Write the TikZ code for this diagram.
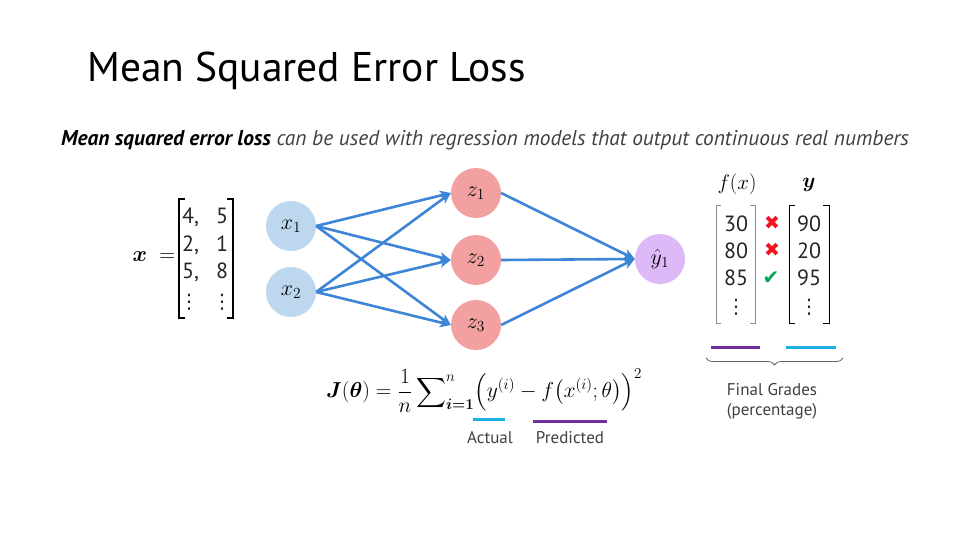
\RequirePackage{fix-cm}
\documentclass[tikz,border=0pt]{standalone}
\usepackage{amsmath,bm}
\usepackage{fontspec}
\setmainfont{PT Sans}
\newfontfamily\symfont{DejaVu Sans}
\usetikzlibrary{arrows.meta,decorations.pathreplacing}
\definecolor{xblue}{RGB}{189,215,238}
\definecolor{zred}{RGB}{242,160,160}
\definecolor{ypurple}{RGB}{221,185,247}
\definecolor{arrowblue}{RGB}{61,133,214}
\definecolor{lineviolet}{RGB}{112,48,160}
\definecolor{linecyan}{RGB}{30,175,225}
\definecolor{xred}{RGB}{240,20,30}
\definecolor{cgreen}{RGB}{0,166,80}
\begin{document}
\begin{tikzpicture}[x=1pt,y=-1pt,
  neuron/.style={circle,minimum size=50pt,inner sep=0pt,font=\fontsize{22}{26}\selectfont},
  conn/.style={draw=arrowblue,line width=2.6pt,-{Stealth[length=11pt,width=10pt,inset=3pt]}},
  num/.style={anchor=base,inner sep=0pt,text=black!85,font=\fontsize{22}{26}\selectfont},
  vdot/.style={anchor=base,inner sep=0pt,text=black!85,font=\symfont\fontsize{20}{24}\selectfont},
  caption/.style={inner sep=0pt,text=black!75,font=\fontsize{17}{20}\selectfont},
  markline/.style={line width=3pt}]
\useasboundingbox (0,0) rectangle (960,540);
\fill[white] (0,0) rectangle (960,540);

% title and subtitle
\node[anchor=base west,inner sep=0pt,font=\fontsize{41.5}{48}\selectfont] (title) at (87,82) {Mean Squared Error Loss};
\node[anchor=base west,inner sep=0pt,font=\fontsize{21.4}{25}\selectfont\itshape] (sub) at (61,146)
  {\textbf{Mean squared error loss} \textcolor{black!75}{can be used with regression models that output continuous real numbers}};

% input matrix
\node[inner sep=0pt,font=\fontsize{22}{26}\selectfont] (xeq) at (154,257) {$\bm{x}\;=$};
\draw[line width=1.1pt] (185,199) -- (179,199) -- (179,318) -- (185,318);
\draw[line width=1.1pt] (227,199) -- (233,199) -- (233,318) -- (227,318);
\node[num,anchor=base west] (m11) at (182,223) {4,};
\node[num] (m12) at (222,223) {5};
\node[num,anchor=base west] (m21) at (182,251) {2,};
\node[num] (m22) at (222,251) {1};
\node[num,anchor=base west] (m31) at (182,278) {5,};
\node[num] (m32) at (222,278) {8};
\node[vdot] (m41) at (189,308) {⋮};
\node[vdot] (m42) at (222,308) {⋮};

% network
\node[neuron,fill=xblue] (x1) at (291,226) {$x_1$};
\node[neuron,fill=xblue] (x2) at (291,292) {$x_2$};
\node[neuron,fill=zred] (z1) at (476,193) {$z_1$};
\node[neuron,fill=zred] (z2) at (476,260) {$z_2$};
\node[neuron,fill=zred] (z3) at (476,325) {$z_3$};
\node[neuron,fill=ypurple] (yh) at (660,259) {$\hat{y}_1$};
\foreach \s in {x1,x2}{
  \foreach \t in {z1,z2,z3}{
    \draw[conn] (\s.east) -- (\t.west);
  }
}
\foreach \s in {z1,z2,z3}{
  \draw[conn] (\s.east) -- (yh.west);
}

% table of predictions
\node[inner sep=0pt,font=\fontsize{21}{25}\selectfont] (fx) at (737,184) {$f(x)$};
\node[inner sep=0pt,font=\fontsize{21}{25}\selectfont] (ylab) at (809,185) {$\bm{y}$};
\draw[black!45,line width=0.8pt] (721,205) -- (716,205) -- (716,323) -- (721,323);
\draw[black!45,line width=0.8pt] (750,205) -- (755,205) -- (755,323) -- (750,323);
\draw[black,line width=0.9pt] (795,205) -- (789,205) -- (789,323) -- (795,323);
\draw[black,line width=0.9pt] (823,205) -- (829,205) -- (829,323) -- (823,323);
\node[num] (p1) at (736,231) {30};
\node[num] (p2) at (736,258) {80};
\node[num] (p3) at (736,285) {85};
\node[vdot] (p4) at (736,313) {⋮};
\node[num] (a1) at (809,231) {90};
\node[num] (a2) at (809,258) {20};
\node[num] (a3) at (809,285) {95};
\node[vdot] (a4) at (809,313) {⋮};
\node[inner sep=0pt,text=xred,font=\symfont\fontsize{19}{22}\selectfont] (c1) at (772,223) {✖};
\node[inner sep=0pt,text=xred,font=\symfont\fontsize{19}{22}\selectfont] (c2) at (772,250) {✖};
\node[inner sep=0pt,text=cgreen,font=\symfont\fontsize{20}{22}\selectfont] (c3) at (771,278) {✔};
\draw[markline,lineviolet] (711,347) -- (760,347);
\draw[markline,linecyan] (786,347) -- (836,347);
\draw[black!60,line width=0.8pt,decorate,decoration={brace,mirror,amplitude=7pt}] (706,358) -- (843,358);
\node[caption] (fg) at (772,390) {Final Grades};
\node[caption] (pc) at (772,411) {(percentage)};

% loss formula
\node[inner sep=0pt,font=\fontsize{21.6}{26}\selectfont] (J) at (484,391)
  {$\displaystyle \bm{J}(\bm{\theta}) = \frac{1}{n}\sum\nolimits_{\bm{i=1}}^{n}\Bigl(y^{(i)} - f\bigl(x^{(i)};\theta\bigr)\Bigr)^{2}$};
\draw[markline,linecyan] (473,419) -- (505,419);
\draw[markline,lineviolet] (533,421) -- (607,421);
\node[caption] (act) at (490,438) {Actual};
\node[caption] (pred) at (570,438) {Predicted};
\end{tikzpicture}
\end{document}
